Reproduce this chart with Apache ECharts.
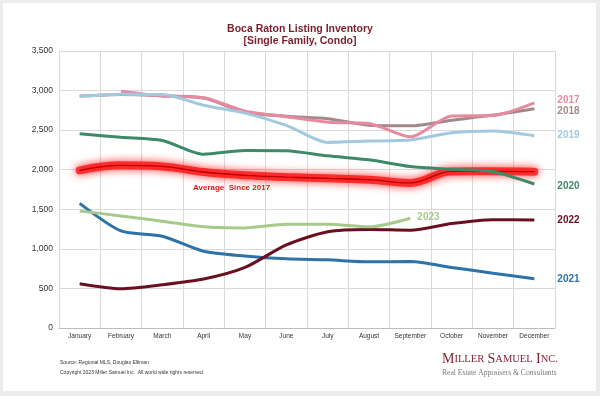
<!DOCTYPE html>
<html>
<head>
<meta charset="utf-8">
<script src="https://cdn.jsdelivr.net/npm/echarts@6/dist/echarts.min.js"></script>
<style>
  html, body { margin: 0; padding: 0; background: #ececec; }
  #chart { width: 600px; height: 396px; }
</style>
</head>
<body>
<div id="chart"></div>
<script>
const months = ['January', 'February', 'March', 'April', 'May', 'June', 'July', 'August', 'September', 'October', 'November', 'December'];
const y2017 = [null, 2990, 2930, 2910, 2740, 2670, 2600, 2585, 2415, 2680, 2685, 2845];
const y2018 = [2930, 2950, 2935, 2905, 2730, 2675, 2645, 2562, 2555, 2625, 2690, 2770];
const y2019 = [2925, 2955, 2950, 2815, 2715, 2560, 2345, 2362, 2375, 2466, 2490, 2430];
const y2020 = [2454, 2410, 2370, 2195, 2244, 2240, 2175, 2125, 2040, 2005, 1975, 1820];
const y2021 = [1575, 1227, 1160, 970, 910, 874, 861, 836, 840, 765, 693, 622];
const y2022 = [559, 496, 546, 618, 765, 1050, 1215, 1244, 1236, 1320, 1368, 1366];
const y2023 = [1479, 1416, 1349, 1278, 1265, 1311, 1311, 1278, 1387, null, null, null];
const avgSince2017 = [1992, 2055, 2042, 1971, 1929, 1907, 1891, 1874, 1833, 1979, 1980, 1975];

const gridColor = '#d9d9d9';
const font = 'Arial, "Liberation Sans", sans-serif';
const serif = '"Liberation Serif", "DejaVu Serif", serif';

// one colored line per year, label sits right of the plot
function yearLine(name, data, color, distance, offset) {
	return {
		name: name,
		type: 'line',
		data: data,
		smooth: 0.25,
		symbol: 'none',
		lineStyle: { color: color, width: 3 },
		endLabel: {
			show: true,
			formatter: name,
			color: color,
			fontFamily: font,
			fontWeight: 'bold',
			fontSize: 10,
			distance: distance,
			offset: offset,
		},
	};
}

const chart = echarts.init(document.getElementById('chart'), null, { renderer: 'canvas' });
chart.setOption({
	animation: false,
	backgroundColor: '#ececec',
	textStyle: { fontFamily: font },
	title: {
		text: 'Boca Raton Listing Inventory\n[Single Family, Condo]',
		left: 'center',
		top: 18,
		textStyle: { color: '#7b1c2c', fontSize: 10.5, fontWeight: 'bold', lineHeight: 12, fontFamily: font },
	},
	graphic: [
		{ type: 'rect', z: -10, shape: { x: 3, y: 3, width: 593, height: 388 }, style: { fill: '#ffffff' } },
		{ type: 'text', left: 193, top: 184, style: { text: 'Average  Since 2017', fill: '#e3191d', font: 'bold 8px ' + font } },
		{ type: 'text', left: 60, top: 360, style: { text: 'Source: Regional MLS, Douglas Elliman', fill: '#333', font: '5px ' + font } },
		{ type: 'text', left: 60, top: 370, style: { text: 'Copyright 2023 Miller Samuel Inc.  All world wide rights reserved.', fill: '#333', font: '5px ' + font } },
		{
			type: 'text', left: 442, top: 352,
			style: {
				text: '{b|M}{s|ILLER} {b|S}{s|AMUEL} {b|I}{s|NC.}',
				rich: {
					b: { fontFamily: serif, fontSize: 14, fill: '#7d1f2e' },
					s: { fontFamily: serif, fontSize: 10.5, fill: '#7d1f2e' },
				},
			},
		},
		{ type: 'text', left: 442, top: 369, style: { text: 'Real Estate Appraisers & Consultants', fill: '#7a7a7a', font: '7.6px ' + serif } },
	],
	grid: { left: 59, right: 45, top: 51, bottom: 68 },
	xAxis: {
		type: 'category',
		data: months,
		boundaryGap: true,
		axisLine: { lineStyle: { color: '#bdbdbd' } },
		axisTick: { length: 3, lineStyle: { color: '#bdbdbd' } },
		splitLine: { show: true, lineStyle: { color: gridColor } },
		axisLabel: { fontSize: 6.5, color: '#333', margin: 5, interval: 0 },
	},
	yAxis: {
		type: 'value',
		min: 0,
		max: 3500,
		interval: 500,
		axisLine: { show: true, lineStyle: { color: gridColor } },
		splitLine: { lineStyle: { color: gridColor } },
		axisLabel: {
			fontSize: 8.5,
			color: '#333',
			margin: 6,
			formatter: function (v) { return v.toLocaleString('en-US'); },
		},
	},
	series: [
		{
			name: 'glow',
			type: 'line',
			data: avgSince2017,
			smooth: 0.4,
			symbol: 'none',
			silent: true,
			lineStyle: {
				color: 'rgba(255, 20, 20, 0.8)',
				width: 8,
				cap: 'round',
				shadowColor: 'rgba(255, 0, 0, 1)',
				shadowBlur: 8,
			},
		},
		{
			name: 'Average Since 2017',
			type: 'line',
			data: avgSince2017,
			smooth: 0.4,
			symbol: 'none',
			lineStyle: { color: '#b80000', width: 1.3 },
		},
		yearLine('2018', y2018, '#a2888b', 23, [0, 2]),
		yearLine('2017', y2017, '#e68aa0', 23, [0, -3]),
		yearLine('2019', y2019, '#a3c9e0', 23, [0, 0]),
		yearLine('2020', y2020, '#3d8a68', 23, [0, 2.5]),
		yearLine('2021', y2021, '#2d72a8', 23, [0, 0]),
		yearLine('2022', y2022, '#6a0f20', 23, [0, 0]),
		yearLine('2023', y2023, '#a6c98c', 7, [0, -1]),
	],
});
</script>
</body>
</html>
